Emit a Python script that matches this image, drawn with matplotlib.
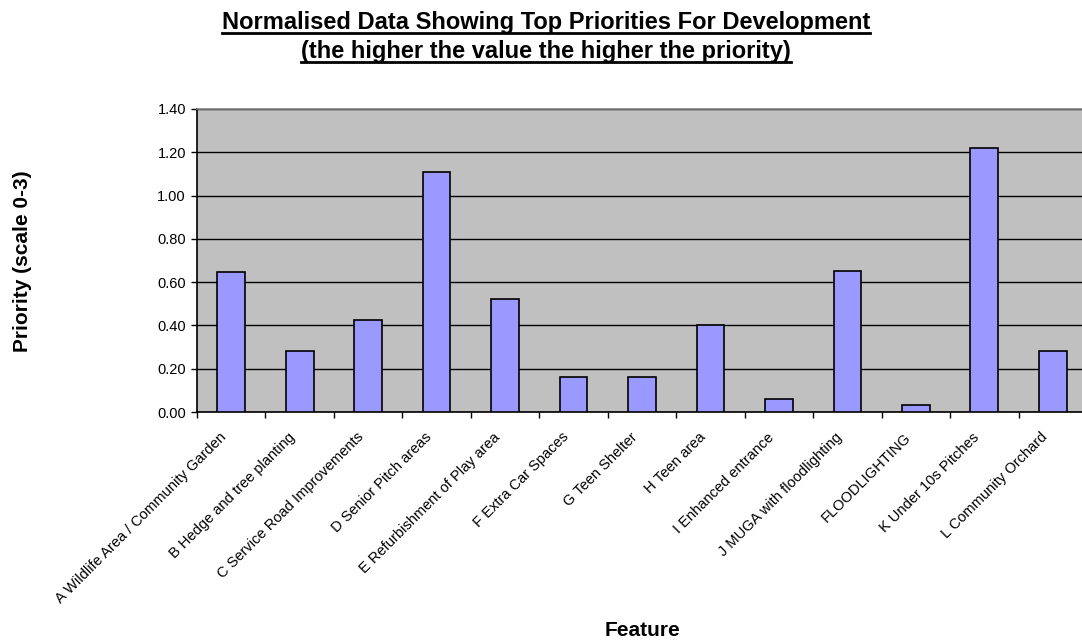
import numpy as np
import matplotlib
matplotlib.use('Agg')
import matplotlib.pyplot as plt
from matplotlib.lines import Line2D
from matplotlib.transforms import ScaledTranslation

plt.rcParams['font.family'] = ['Liberation Sans', 'DejaVu Sans']

features = ["A Wildlife Area / Community Garden", "B Hedge and tree planting",
            "C Service Road Improvements", "D Senior Pitch areas",
            "E Refurbishment of Play area", "F Extra Car Spaces", "G Teen Shelter",
            "H Teen area", "I Enhanced entrance", "J MUGA with floodlighting",
            "FLOODLIGHTING", "K Under 10s Pitches", "L Community Orchard"]
priority = [0.647, 0.283, 0.425, 1.109, 0.521, 0.162, 0.162,
            0.402, 0.062, 0.653, 0.034, 1.218, 0.283]
yticks = [0.0, 0.2, 0.4, 0.6, 0.8, 1.0, 1.2, 1.4]

W, H = 1082, 641
fig = plt.figure(figsize=(W / 100, H / 100), dpi=100)
# plot area in pixels: left 197, right 1087 (runs off the edge), top 109, bottom 412
ax = fig.add_axes([197 / W, (H - 412) / H, (1087 - 197) / W, (412 - 109) / H])
ax.set_facecolor('#C0C0C0')

x = np.arange(len(features))
ax.bar(x, priority, width=0.405, color='#9999FF', edgecolor='black', linewidth=1.2, zorder=3)

ax.set_xlim(-0.5, len(features) - 0.5)
ax.set_ylim(0, 1.4)
ax.set_yticks(yticks)
ax.set_yticklabels(['%.2f' % v for v in yticks])
ax.yaxis.grid(True, color='black', linewidth=1, zorder=1)
ax.set_axisbelow(True)

# category labels at centres, tick marks at the boundaries
ax.set_xticks(x)
ax.set_xticklabels(features, rotation=45, ha='right', va='top', rotation_mode='anchor', fontsize=10.5)
ax.set_xticks(np.arange(-0.5, len(features)), minor=True)
ax.tick_params(axis='x', which='major', length=0, pad=13)
ax.tick_params(axis='x', which='minor', length=4, width=1, direction='out', color='black')
ax.tick_params(axis='y', length=4, width=1, direction='out', labelsize=10.5, pad=4)
shift = ScaledTranslation(-12 / 100, 0, fig.dpi_scale_trans)
for lab in ax.get_xticklabels():
    lab.set_transform(lab.get_transform() + shift)

for s in ['left', 'bottom']:
    ax.spines[s].set_color('black')
    ax.spines[s].set_linewidth(1.2)
for s in ['top', 'right']:
    ax.spines[s].set_color('#808080')
    ax.spines[s].set_linewidth(1.2)

fig.text(23 / W, 1 - 261 / H, 'Priority (scale 0-3)', rotation=90, ha='center', va='center',
         fontsize=15, fontweight='bold')
fig.text(642 / W, 1 - 631 / H, 'Feature', ha='center', va='center', fontsize=15, fontweight='bold')

# two line underlined title
titles = ['Normalised Data Showing Top Priorities For Development',
          '(the higher the value the higher the priority)']
baselines = [29, 58]
tt = []
for t, b in zip(titles, baselines):
    tt.append(fig.text(546 / W, 1 - b / H, t, ha='center', va='baseline',
                       fontsize=17, fontweight='bold'))
fig.canvas.draw()
r = fig.canvas.get_renderer()
for t, b in zip(tt, baselines):
    bb = t.get_window_extent(r)
    yl = 1 - (b + 3.5) / H
    fig.add_artist(Line2D([bb.x0 / W, bb.x1 / W], [yl, yl], color='black', linewidth=2,
                          transform=fig.transFigure))

fig.savefig('out.png', dpi=100)
